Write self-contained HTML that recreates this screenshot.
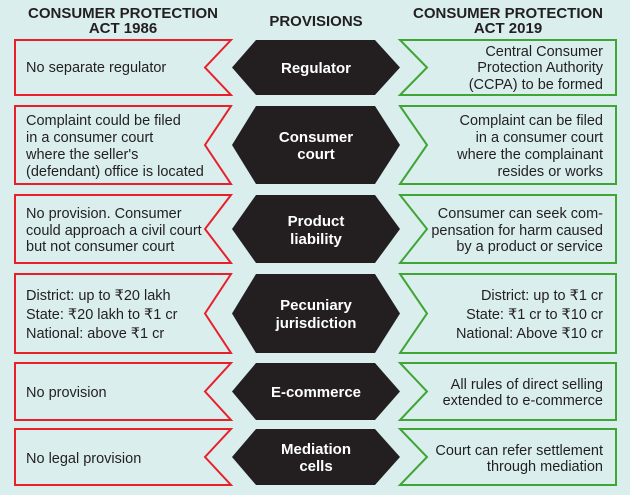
<!DOCTYPE html>
<html><head><meta charset="utf-8"><style>
html,body{margin:0;padding:0;background:#daeeee;}
svg{display:block;}
text{font-family:"Liberation Sans",sans-serif;}
.l{font-size:14.5px;fill:#231f20;}
.r{font-size:14.5px;fill:#231f20;text-anchor:end;}
.c{font-size:15px;font-weight:bold;fill:#fff;text-anchor:middle;}
.h{font-size:15px;font-weight:bold;fill:#231f20;text-anchor:middle;}
.red{fill:none;stroke:#e8202a;stroke-width:2;}
.grn{fill:none;stroke:#3fa535;stroke-width:2;}
.hex{fill:#231f20;}
</style></head><body>
<svg width="630" height="495" viewBox="0 0 630 495" xmlns="http://www.w3.org/2000/svg">
<rect width="630" height="495" fill="#daeeee"/>
<text class="h" x="123" y="18">CONSUMER PROTECTION</text>
<text class="h" x="123" y="33">ACT 1986</text>
<text class="h" x="316" y="26">PROVISIONS</text>
<text class="h" x="508" y="18">CONSUMER PROTECTION</text>
<text class="h" x="508" y="33">ACT 2019</text>

<!-- row1 40-95 -->
<polygon class="red" points="15,40 231,40 205,67.5 231,95 15,95"/>
<polygon class="hex" points="232,67.5 256,40 375,40 400,67.5 375,95 256,95"/>
<polygon class="grn" points="400,40 616,40 616,95 400,95 427,67.5"/>
<text class="l" x="26" y="72">No separate regulator</text>
<text class="c" x="316" y="73">Regulator</text>
<text class="r" x="603" y="56">Central Consumer</text>
<text class="r" x="603" y="72">Protection Authority</text>
<text class="r" x="603" y="89">(CCPA) to be formed</text>

<!-- row2 106-184 -->
<polygon class="red" points="15,106 231,106 205,145 231,184 15,184"/>
<polygon class="hex" points="232,145 256,106 375,106 400,145 375,184 256,184"/>
<polygon class="grn" points="400,106 616,106 616,184 400,184 427,145"/>
<text class="l" x="26" y="125">Complaint could be filed</text>
<text class="l" x="26" y="142">in a consumer court</text>
<text class="l" x="26" y="159">where the seller's</text>
<text class="l" x="26" y="176">(defendant) office is located</text>
<text class="c" x="316" y="142">Consumer</text>
<text class="c" x="316" y="159">court</text>
<text class="r" x="603" y="125">Complaint can be filed</text>
<text class="r" x="603" y="142">in a consumer court</text>
<text class="r" x="603" y="159">where the complainant</text>
<text class="r" x="603" y="176">resides or works</text>

<!-- row3 195-263 -->
<polygon class="red" points="15,195 231,195 205,229 231,263 15,263"/>
<polygon class="hex" points="232,229 256,195 375,195 400,229 375,263 256,263"/>
<polygon class="grn" points="400,195 616,195 616,263 400,263 427,229"/>
<text class="l" x="26" y="218">No provision. Consumer</text>
<text class="l" x="26" y="235">could approach a civil court</text>
<text class="l" x="26" y="251">but not consumer court</text>
<text class="c" x="316" y="226">Product</text>
<text class="c" x="316" y="244">liability</text>
<text class="r" x="603" y="218">Consumer can seek com-</text>
<text class="r" x="603" y="235">pensation for harm caused</text>
<text class="r" x="603" y="251">by a product or service</text>

<!-- row4 274-353 -->
<polygon class="red" points="15,274 231,274 205,313.5 231,353 15,353"/>
<polygon class="hex" points="232,313.5 256,274 375,274 400,313.5 375,353 256,353"/>
<polygon class="grn" points="400,274 616,274 616,353 400,353 427,313.5"/>
<text class="l" x="26" y="300">District: up to ₹20 lakh</text>
<text class="l" x="26" y="319">State: ₹20 lakh to ₹1 cr</text>
<text class="l" x="26" y="338">National: above ₹1 cr</text>
<text class="c" x="316" y="310">Pecuniary</text>
<text class="c" x="316" y="328">jurisdiction</text>
<text class="r" x="603" y="300">District: up to ₹1 cr</text>
<text class="r" x="603" y="319">State: ₹1 cr to ₹10 cr</text>
<text class="r" x="603" y="338">National: Above ₹10 cr</text>

<!-- row5 363-420 -->
<polygon class="red" points="15,363 231,363 205,391.5 231,420 15,420"/>
<polygon class="hex" points="232,391.5 256,363 375,363 400,391.5 375,420 256,420"/>
<polygon class="grn" points="400,363 616,363 616,420 400,420 427,391.5"/>
<text class="l" x="26" y="397">No provision</text>
<text class="c" x="316" y="397">E-commerce</text>
<text class="r" x="603" y="389">All rules of direct selling</text>
<text class="r" x="603" y="405">extended to e-commerce</text>

<!-- row6 429-485 -->
<polygon class="red" points="15,429 231,429 205,457 231,485 15,485"/>
<polygon class="hex" points="232,457 256,429 375,429 400,457 375,485 256,485"/>
<polygon class="grn" points="400,429 616,429 616,485 400,485 427,457"/>
<text class="l" x="26" y="463">No legal provision</text>
<text class="c" x="316" y="454">Mediation</text>
<text class="c" x="316" y="471">cells</text>
<text class="r" x="603" y="455">Court can refer settlement</text>
<text class="r" x="603" y="471">through mediation</text>
</svg>
</body></html>
